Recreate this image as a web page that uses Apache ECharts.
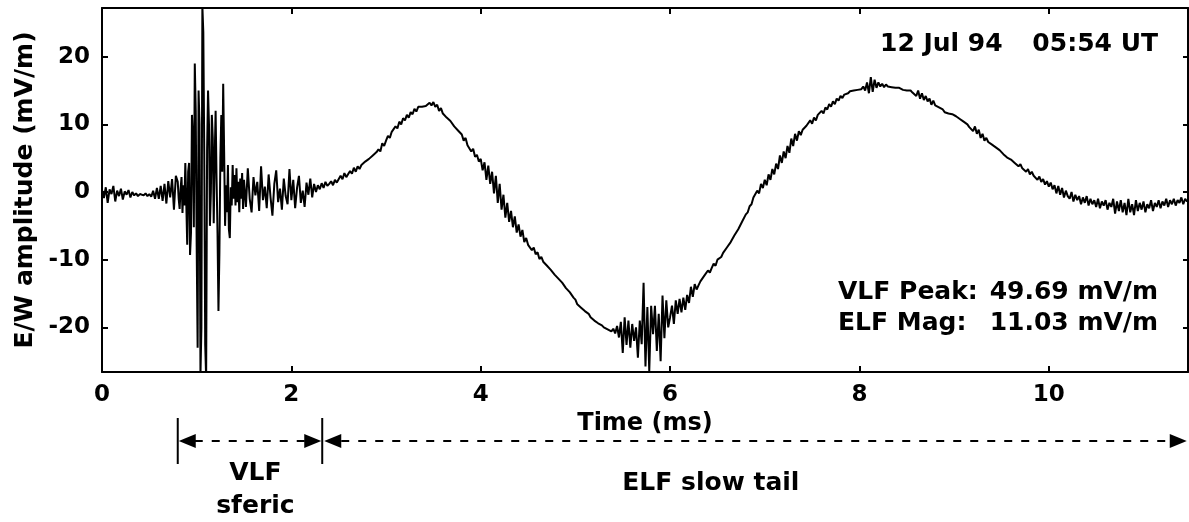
<!DOCTYPE html>
<html>
<head>
<meta charset="utf-8">
<script src="https://cdn.jsdelivr.net/npm/echarts@6/dist/echarts.min.js"></script>
<style>
html,body{margin:0;padding:0;background:#fff;}
#chart{width:1189px;height:522px;}
</style>
</head>
<body>
<div id="chart"></div>
<script>
// ---- Data (E/W field amplitude, mV/m) ----
// pre-sferic segment: start 0 ms, step 0.02 ms
const preStart = 0.0, preStep = 0.02;
const preValues = [
  0.3,-0.9,0.7,-1.6,0.4,-0.3,0.9,-1.4,0.2,-0.6,
  0.5,-1.1,0.1,-0.4,0.3,-0.8,0.0,-0.5,-0.2,-0.6,
  -0.3,-0.4,-0.5,-0.2,-0.6,-0.3,-0.7,0.2,-1.0,0.6,
  -1.0,0.9,-1.3,1.2,-1.7,1.6,-0.8,1.9,-2.6,2.4
];
// VLF sferic burst: start 0.80 ms, step 0.01 ms
const burstStart = 0.80, burstStep = 0.01;
const burstValues = [
  1.5,-1.0,-2.5,0.5,2.2,-3.1,1.0,-2.0,4.3,-1.5,
  -7.8,3.0,4.3,-9.3,-6.0,11.4,8.0,-5.2,19.0,12.0,
  -8.0,-23.0,15.0,10.0,-27.0,-20.0,27.5,23.6,6.0,-22.6,
  -27.5,6.2,15.0,10.0,-5.0,0.0,11.4,8.0,-4.6,5.0,
  12.0,2.0,-6.0,-17.6,-9.0,5.0,11.4,3.0,16.0,6.0,
  -5.0,1.0,-3.0,4.0,-5.5,-6.8,0.7,-2.0,4.0,-1.0,
  2.5,-2.0,3.5,-1.5,1.5,-3.0,2.0,-1.0,2.8,-2.5
];
// ELF slow tail: start 1.50 ms, step 0.02 ms
const tailStart = 1.50, tailStep = 0.02;
const tailValues = [
  1.8,-2.2,3.5,-1.0,-3.0,2.2,-0.5,1.5,-2.8,3.8,-1.2,0.8,-2.4,2.6,-0.8,-3.5,1.2,3.2,-1.5,0.5,-2.6,2.0,-0.6,-1.8,3.4,
  -1.2,1.8,-2.4,0.6,2.4,-1.6,0.2,-2.2,1.4,-0.4,2.0,-0.8,1.2,0.0,1.0,0.4,1.3,0.6,1.5,0.9,1.2,1.6,1.0,1.8,1.4,
  1.6,2.4,1.9,2.8,2.2,2.0,3.1,2.7,3.6,3.0,3.8,3.4,4.0,4.1,4.5,4.6,4.9,5.1,5.4,5.6,5.9,6.3,6.0,7.2,6.8,
  7.6,8.3,8.0,8.9,8.7,9.7,9.4,10.4,10.0,10.9,10.6,11.4,11.0,11.8,11.5,12.3,11.9,12.6,12.7,12.6,12.8,12.7,12.9,13.2,12.8,
  13.3,12.6,12.9,12.0,12.4,11.6,11.5,11.0,10.9,10.5,10.4,9.7,9.9,9.1,8.8,8.5,7.6,8.0,6.9,7.0,6.0,6.4,5.2,5.5,4.5,
  4.9,3.2,4.4,1.8,3.9,1.2,3.0,-0.2,2.4,-1.6,1.2,-2.6,-0.4,-3.8,-1.6,-4.4,-2.8,-5.2,-3.6,-6.0,-4.8,-6.6,-5.6,-7.4,-6.8,
  -7.8,-7.6,-8.6,-8.2,-9.2,-8.9,-9.9,-9.6,-10.3,-10.1,-10.9,-10.8,-11.5,-11.4,-12.2,-12.0,-12.8,-12.6,-13.4,-13.3,-14.2,-14.0,-14.8,-14.7,-15.6,
  -15.9,-16.6,-16.5,-17.1,-17.0,-17.6,-17.8,-18.0,-18.5,-18.3,-19.0,-18.8,-19.4,-19.5,-19.7,-20.0,-19.8,-20.3,-20.1,-20.6,-20.2,-20.9,-19.8,-21.5,-19.2,
  -23.8,-18.5,-22.6,-19.0,-23.0,-19.5,-22.0,-20.0,-24.5,-19.0,-22.5,-13.4,-25.8,-17.0,-26.5,-16.8,-21.0,-16.8,-23.5,-18.0,-25.0,-15.3,-21.6,-16.0,-20.0,
  -18.5,-16.8,-19.5,-16.0,-18.0,-15.8,-17.8,-15.6,-17.4,-15.2,-16.4,-14.0,-15.5,-13.6,-14.4,-13.8,-13.2,-13.4,-12.4,-12.6,-11.6,-11.9,-11.2,-10.6,-10.9,
  -10.0,-9.8,-9.6,-9.0,-8.9,-8.2,-8.0,-7.4,-7.2,-6.4,-6.5,-5.5,-5.4,-4.4,-4.2,-3.3,-3.0,-2.1,-1.8,-0.8,-1.0,0.2,-0.2,1.2,0.6,
  1.8,1.0,2.6,1.8,3.4,2.6,4.2,3.4,5.4,4.3,6.0,5.0,6.8,5.8,7.9,6.8,8.6,7.6,9.0,8.4,9.2,9.0,9.8,9.6,10.6,
  10.1,11.0,10.6,11.4,11.2,12.0,11.6,12.5,12.2,13.0,12.6,13.4,13.0,13.8,13.5,14.2,13.9,14.4,14.5,14.6,14.9,14.8,15.0,15.2,15.1,
  15.3,15.2,15.6,15.0,16.2,14.6,17.0,14.8,16.6,15.4,16.2,15.6,16.0,15.5,15.9,15.6,15.7,15.5,15.6,15.4,15.3,15.4,15.2,15.1,15.2,
  15.0,14.9,15.0,14.7,14.9,14.2,15.0,13.8,14.6,13.6,14.2,13.4,13.8,12.9,13.5,12.8,12.9,12.5,12.6,12.2,11.8,12.0,11.6,11.7,11.5,
  11.3,11.2,11.0,10.8,10.6,10.4,10.2,10.0,9.6,9.8,9.0,9.7,8.6,9.2,8.0,8.6,7.6,8.0,7.4,7.3,7.0,6.8,6.6,6.5,6.2,
  6.0,5.6,5.7,5.1,5.2,4.8,4.8,4.3,4.5,3.8,4.1,3.5,3.7,3.0,3.4,2.6,3.0,2.4,2.6,1.8,2.3,1.5,1.9,1.1,1.6,
  0.8,1.4,0.4,1.0,-0.2,0.9,-0.4,0.6,-0.8,0.2,-0.6,-1.0,0.0,-1.4,-0.4,-1.2,-0.6,-1.8,-0.8,-1.6,-0.6,-2.0,-1.0,-1.8,-1.2,
  -2.2,-1.0,-2.4,-1.4,-2.0,-1.2,-2.6,-1.6,-2.2,-1.0,-3.2,-1.4,-2.8,-1.2,-3.0,-1.6,-3.4,-1.0,-3.0,-1.8,-3.4,-1.2,-2.8,-1.6,-2.6,
  -1.4,-3.0,-1.8,-2.4,-1.2,-2.8,-1.6,-2.2,-1.2,-2.4,-1.4,-2.0,-1.0,-2.2,-1.2,-1.8,-1.0,-2.0,-1.2,-1.6,-0.8,-1.8,-1.0,-1.4,-0.9
];

// ---- Axis ticks and annotation texts ----
const xTicks = [0, 2, 4, 6, 8, 10];
const yTicks = [-20, -10, 0, 10, 20];
const xRange = [0, 11.47];
const yRange = [-26.6, 27.2];
const dateText = '12 Jul 94';
const timeText = '05:54 UT';
const statNames = ['VLF Peak:', 'ELF Mag:'];
const statValues = ['49.69 mV/m', '11.03 mV/m'];
// phase boundaries (ms): VLF sferic start, ELF tail start, end of record
const phaseBounds = [0.80, 2.326, 11.457];
const vlfLabel = ['VLF', 'sferic'];
const elfLabel = 'ELF slow tail';
const vlfLabelTime = 1.62;
const elfLabelTime = 6.43;

function toPoints(start, step, vals) {
  return vals.map((v, i) => [+(start + i * step).toFixed(4), v]);
}
const seriesData = []
  .concat(toPoints(preStart, preStep, preValues))
  .concat(toPoints(burstStart, burstStep, burstValues))
  .concat(toPoints(tailStart, tailStep, tailValues));

const FONT = '"DejaVu Sans", "Liberation Sans", sans-serif';
const axisLineStyle = { show: true, onZero: false, lineStyle: { color: '#000', width: 2 } };
const tickStyle = { color: '#000', width: 2 };

const chart = echarts.init(document.getElementById('chart'), null, { renderer: 'canvas' });

const option = {
  animation: false,
  backgroundColor: '#fff',
  grid: { left: 102, right: 1, top: 8, bottom: 150, containLabel: false },
  xAxis: [
    {
      type: 'value', position: 'bottom', min: xRange[0], max: xRange[1],
      axisLine: axisLineStyle,
      axisTick: { show: true, inside: true, length: 6, customValues: xTicks, lineStyle: tickStyle },
      axisLabel: { customValues: xTicks, color: '#000', fontFamily: FONT, fontWeight: 'bold', fontSize: 23, margin: 12 },
      splitLine: { show: false },
      name: 'Time (ms)', nameLocation: 'middle', nameGap: 36,
      nameTextStyle: { color: '#000', fontFamily: FONT, fontWeight: 'bold', fontSize: 24 }
    },
    {
      type: 'value', position: 'top', min: xRange[0], max: xRange[1],
      axisLine: axisLineStyle,
      axisTick: { show: true, inside: true, length: 6, customValues: xTicks, lineStyle: tickStyle },
      axisLabel: { show: false },
      splitLine: { show: false }
    }
  ],
  yAxis: [
    {
      type: 'value', position: 'left', min: yRange[0], max: yRange[1],
      axisLine: axisLineStyle,
      axisTick: { show: true, inside: true, length: 6, customValues: yTicks, lineStyle: tickStyle },
      axisLabel: { customValues: yTicks, color: '#000', fontFamily: FONT, fontWeight: 'bold', fontSize: 23, margin: 12 },
      splitLine: { show: false },
      name: 'E/W amplitude (mV/m)', nameLocation: 'middle', nameGap: 58, nameRotate: 90,
      nameTextStyle: { color: '#000', fontFamily: FONT, fontWeight: 'bold', fontSize: 25 }
    },
    {
      type: 'value', position: 'right', min: yRange[0], max: yRange[1],
      axisLine: axisLineStyle,
      axisTick: { show: true, inside: true, length: 5, customValues: yTicks, lineStyle: tickStyle },
      axisLabel: { show: false },
      splitLine: { show: false }
    }
  ],
  series: [
    {
      type: 'line', xAxisIndex: 0, yAxisIndex: 0,
      data: seriesData, showSymbol: false, symbol: 'none', clip: true,
      lineStyle: { color: '#000', width: 2 }
    }
  ]
};
chart.setOption(option);

// ---- annotations (positions derived from the axis scale) ----
function px(t) { return chart.convertToPixel({ xAxisIndex: 0 }, t); }
const x0 = px(phaseBounds[0]), x1 = px(phaseBounds[1]), xe = px(phaseBounds[2]);
const yA = 441, barTop = 418, barBot = 464, ah = 7, al = 17;
const black = '#000';
function txt(text, x, y, align, size) {
  return {
    type: 'text', silent: true,
    style: {
      text: text, x: x, y: y, fill: black,
      font: 'bold ' + size + 'px ' + FONT,
      textAlign: align, textVerticalAlign: 'middle',
      align: align, verticalAlign: 'middle'
    }
  };
}
function tri(tipX, dir) {
  return {
    type: 'polygon', silent: true,
    shape: { points: [[tipX, yA], [tipX + dir * al, yA - ah], [tipX + dir * al, yA + ah]] },
    style: { fill: black }
  };
}
function seg(xa, ya, xb, yb, dash) {
  return {
    type: 'line', silent: true,
    shape: { x1: xa, y1: ya, x2: xb, y2: yb },
    style: { stroke: black, lineWidth: 2, lineDash: dash || null }
  };
}
chart.setOption({
  graphic: [
    seg(x0, barTop, x0, barBot),
    seg(x1, barTop, x1, barBot),
    tri(x0 + 1, 1),
    seg(x0 + al, yA, x1 - al, yA, [8, 9]),
    tri(x1 - 1, -1),
    tri(x1 + 2, 1),
    seg(x1 + 2 + al, yA, xe - al, yA, [8, 9]),
    tri(xe, -1),
    txt(vlfLabel[0], px(vlfLabelTime), 473, 'center', 25),
    txt(vlfLabel[1], px(vlfLabelTime), 506, 'center', 25),
    txt(elfLabel, px(elfLabelTime), 483, 'center', 25),
    txt(dateText, 880, 44, 'left', 25),
    txt(timeText, 1158, 44, 'right', 25),
    txt(statNames[0], 838, 292, 'left', 25),
    txt(statValues[0], 1158, 292, 'right', 25),
    txt(statNames[1], 838, 323, 'left', 25),
    txt(statValues[1], 1158, 323, 'right', 25)
  ]
});
</script>
</body>
</html>
